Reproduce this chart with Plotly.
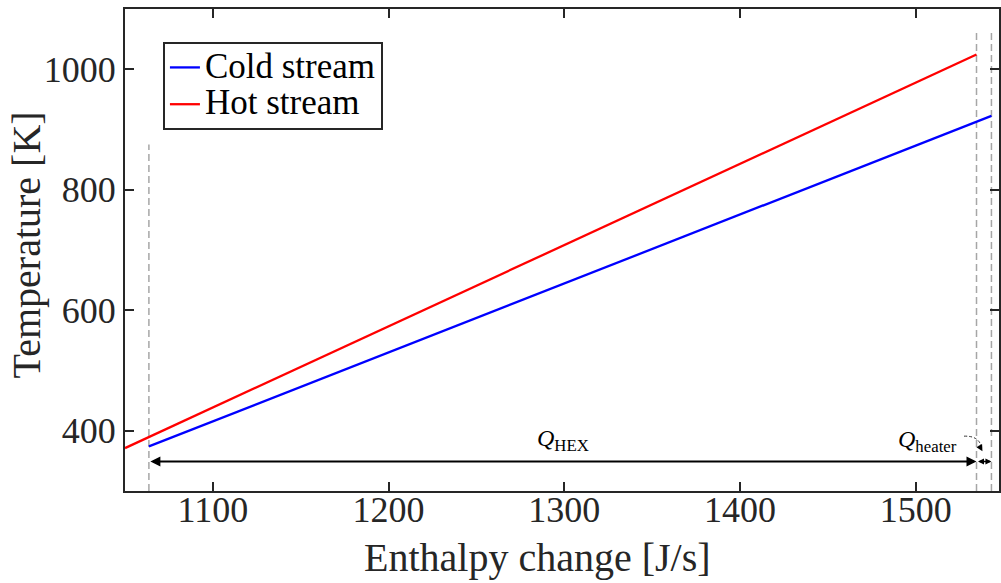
import plotly.graph_objects as go

# Composite curves of the heat exchanger (enthalpy change vs temperature)
cold_q = [1063.6, 1543.1]
cold_t = [374.0, 922.6]
hot_q = [1050.0, 1534.6]
hot_t = [371.2, 1024.4]

# Boundaries between the heat-exchanger and heater duties
q_hex_start = 1063.6
q_hex_end = 1534.6
q_heater_end = 1543.1
guide_top = [875.0, 1061.0, 1061.0]

x_ticks = [1100, 1200, 1300, 1400, 1500]
y_ticks = [400, 600, 800, 1000]
x_range = [1050, 1547.4]
y_range = [300, 1100]
arrow_t = 349.0

AX = "#262626"
FONT = "Liberation Serif, Times New Roman, serif"
GUIDE = "#a6a6a6"

fig = go.Figure()

# vertical dashed guides
for q, top in zip([q_hex_start, q_hex_end, q_heater_end], guide_top):
    fig.add_trace(go.Scatter(
        x=[q, q], y=[y_range[0], top], mode="lines",
        line=dict(color=GUIDE, width=1.5, dash="7px,4px"),
        showlegend=False, hoverinfo="skip"))

LEG = '<span style="font-size:35px">{}</span>'
fig.add_trace(go.Scatter(x=cold_q, y=cold_t, mode="lines",
                         name=LEG.format("Cold stream"),
                         line=dict(color="#0000ff", width=2.3)))
fig.add_trace(go.Scatter(x=hot_q, y=hot_t, mode="lines",
                         name=LEG.format("Hot stream"),
                         line=dict(color="#ff0000", width=2.3)))

annotations = [
    # Q_HEX double arrow
    dict(x=q_hex_end, y=arrow_t, ax=q_hex_start, ay=arrow_t, xref="x", yref="y",
         axref="x", ayref="y", text="", showarrow=True, arrowhead=2,
         arrowside="end+start", arrowwidth=2, arrowsize=1, arrowcolor="#000"),
    # Q_heater double arrow
    dict(x=q_heater_end, y=arrow_t, ax=q_hex_end, ay=arrow_t, xref="x", yref="y",
         axref="x", ayref="y", text="", showarrow=True, arrowhead=2,
         arrowside="end+start", arrowwidth=1.5, arrowsize=0.8, arrowcolor="#000"),
    dict(x=(q_hex_start + q_hex_end) / 2, y=arrow_t + 7, xref="x", yref="y",
         text="<i>Q</i><sub>HEX</sub>", showarrow=False, yanchor="bottom",
         font=dict(family=FONT, size=24, color="#000")),
    dict(x=1506.5, y=383.0, xref="x", yref="y",
         text="<i>Q</i><sub>heater</sub>", showarrow=False,
         font=dict(family=FONT, size=24, color="#000")),
    # arrowhead at the end of the curved pointer
    dict(x=1538.0, y=366.0, ax=-4, ay=-7, xref="x", yref="y", text="",
         showarrow=True, arrowhead=2, arrowwidth=1, arrowsize=1.3, arrowcolor="#000"),
    # axis titles
    dict(x=0.4715, y=-0.139, xref="paper", yref="paper", text="Enthalpy change [J/s]",
         showarrow=False, font=dict(family=FONT, size=40, color=AX),
         xanchor="center", yanchor="middle"),
    dict(x=-0.113, y=0.51, xref="paper", yref="paper", text="Temperature [K]",
         showarrow=False, textangle=-90, font=dict(family=FONT, size=40, color=AX),
         xanchor="center", yanchor="middle"),
]

shapes = [
    dict(type="path", xref="x", yref="y",
         path="M 1527.5,391 Q 1536.5,392 1537.6,370",
         line=dict(color="#333", width=1, dash="3px,2px")),
]

fig.update_layout(
    width=1001, height=583,
    margin=dict(l=125, r=0, t=9, b=92),
    paper_bgcolor="white", plot_bgcolor="white",
    font=dict(family=FONT, size=36, color=AX),
    showlegend=True,
    legend=dict(x=0.0434, y=0.9315, xanchor="left", yanchor="top",
                bgcolor="white", bordercolor=AX, borderwidth=2,
                font=dict(family=FONT, size=26, color="#000"),
                itemwidth=30, tracegroupgap=0),
    annotations=annotations,
    shapes=shapes,
)

fig.update_xaxes(range=x_range, tickvals=x_ticks, showgrid=False, zeroline=False,
                 showline=True, linecolor=AX, linewidth=2, mirror="ticks",
                 ticks="inside", ticklen=9, tickwidth=2, tickcolor=AX,
                 ticklabelstandoff=-14,
                 tickfont=dict(family=FONT, size=36, color=AX))
fig.update_yaxes(range=y_range, tickvals=y_ticks, showgrid=False, zeroline=False,
                 showline=True, linecolor=AX, linewidth=2, mirror="ticks",
                 ticks="inside", ticklen=9, tickwidth=2, tickcolor=AX,
                 tickfont=dict(family=FONT, size=36, color=AX))

fig.write_html("out.html")
